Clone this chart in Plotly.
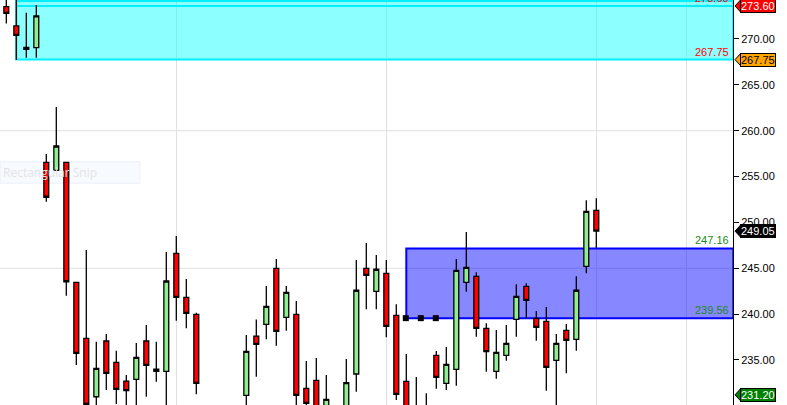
import plotly.graph_objects as go

# bar index (gaps = bars that sit below the visible range)
idx = [0, 1, 2, 3, 4, 5, 6, 7, 8, 9, 10, 11, 12, 13, 14, 15, 16, 17, 18, 19,
       24, 25, 26, 27, 28, 29, 30, 31, 32, 34, 35, 36, 37, 38, 39,
       40, 41, 42, 43, 44, 45, 46, 47, 48, 49, 50, 51, 52, 53, 54, 55, 56, 57, 58, 59]
opens = [273.53, 271.42, 269.09, 269.05, 256.55, 255.68, 256.55, 243.47, 237.36, 230.99,
         237.07, 234.74, 232.70, 232.89, 237.07, 234.01, 233.76, 246.63, 241.83, 239.98,
         231.14, 237.61, 238.89, 244.99, 239.65, 239.98, 231.91, 232.78, 229.40, 229.60,
         233.47, 244.99, 242.49, 244.45, 239.87,
         232.67, 229.80, 229.60, 235.51, 232.45, 233.98, 243.47, 244.12, 238.45, 233.76,
         235.51, 239.43, 243.03, 239.54, 239.21, 234.96, 238.23, 237.25, 245.21, 251.32]
highs = [274.80, 275.00, 272.87, 273.70, 257.46, 262.58, 256.55, 243.47, 246.99, 236.99,
         237.83, 236.01, 233.36, 236.85, 238.81, 236.99, 246.77, 248.52, 243.83, 240.15,
         237.72, 239.42, 243.06, 246.01, 243.06, 241.43, 234.89, 235.21, 233.36, 235.10,
         245.90, 247.75, 246.45, 245.90, 241.07,
         235.65, 233.14, 231.36, 235.98, 236.41, 246.01, 248.95, 244.56, 239.00, 238.27,
         238.81, 243.25, 243.36, 240.34, 240.77, 237.83, 238.92, 244.12, 252.41, 252.63]
lows = [271.70, 267.71, 267.96, 267.96, 252.26, 255.68, 242.00, 234.45, 229.50, 229.80,
        231.72, 230.20, 229.90, 229.80, 230.99, 232.63, 229.90, 239.28, 238.45, 231.25,
        229.90, 233.17, 237.25, 236.56, 238.19, 229.80, 229.70, 229.40, 229.00, 229.20,
        231.54, 240.52, 240.52, 237.47, 230.63,
        229.40, 228.80, 228.80, 231.87, 231.72, 232.19, 242.44, 237.54, 233.72, 232.96,
        234.92, 237.54, 239.54, 237.10, 231.65, 229.90, 233.54, 236.01, 244.45, 247.18]
closes = [272.80, 270.40, 268.88, 272.51, 252.74, 258.33, 243.53, 235.72, 230.16, 234.09,
          233.54, 231.80, 231.65, 235.29, 234.42, 233.76, 243.61, 241.83, 240.09, 232.45,
          235.94, 236.71, 240.85, 238.12, 242.38, 231.14, 230.27, 229.60, 230.71, 232.52,
          242.60, 244.23, 244.89, 238.67, 231.25,
          229.80, 229.20, 229.00, 233.10, 234.52, 244.78, 245.10, 238.45, 235.90, 235.83,
          236.82, 241.94, 241.50, 238.56, 234.20, 236.82, 237.14, 242.60, 251.21, 249.05]

# zones / levels
supply_zone = (267.75, 273.60)
demand_zone = (239.56, 247.16)
grid_levels = [245, 260]
time_grid = [17, 38, 59, 68]
handles_x = [39.95, 41.45, 42.95]
tags = [(273.60, "273.60", "#ff0000", "white"),
        (267.75, "267.75", "#ffa500", "black"),
        (249.05, "249.05", "black", "white"),
        (231.20, "231.20", "#008000", "white")]

fig = go.Figure()
fig.add_trace(go.Candlestick(
    x=idx, open=opens, high=highs, low=lows, close=closes,
    increasing=dict(line=dict(color="black", width=1.3), fillcolor="#90ee90"),
    decreasing=dict(line=dict(color="black", width=1.3), fillcolor="#ff0000"),
    whiskerwidth=0, showlegend=False, hoverinfo="skip"))

fig.add_trace(go.Scatter(x=handles_x, y=[demand_zone[0]] * 3, mode="markers",
                         marker=dict(symbol="square", size=6, color="black"),
                         showlegend=False, hoverinfo="skip"))

for g in grid_levels:
    fig.add_shape(type="line", xref="paper", x0=0, x1=1, y0=g, y1=g,
                  line=dict(color="#e0e0e0", width=1), layer="below")

# faded snip tooltip box (under the candles)
fig.add_shape(type="rect", xref="paper", yref="paper", x0=0, x1=140 / 733,
              y0=(405 - 183.3) / 405, y1=(405 - 161.7) / 405,
              fillcolor="rgba(240,245,255,0.5)", line=dict(color="rgba(225,235,250,0.6)", width=1),
              layer="below")
fig.add_annotation(xref="paper", yref="paper", x=0, y=(405 - 172.5) / 405,
                   text="Rectangular Snip", showarrow=False, xanchor="left",
                   yanchor="middle", xshift=1,
                   font=dict(family="Open Sans", size=12, color="#e4e4e4"))

# cyan zone
fig.add_shape(type="rect", x0=1, x1=72.7, y0=supply_zone[0], y1=274.15,
              fillcolor="rgba(0,255,255,0.45)", line=dict(color="#00f0ff", width=2),
              layer="between")
fig.add_shape(type="line", x0=1, x1=72.7, y0=supply_zone[1], y1=supply_zone[1],
              line=dict(color="#00f0ff", width=2), layer="between")
# blue zone
fig.add_shape(type="rect", x0=40, x1=72.7, y0=demand_zone[0], y1=demand_zone[1],
              fillcolor="rgba(0,0,255,0.47)", line=dict(color="#0000ff", width=2),
              layer="between")

# level texts in the plot
for v, c in [(supply_zone[1], "#ff0000"), (supply_zone[0], "#ff0000"),
             (demand_zone[1], "#1a8a1a"), (demand_zone[0], "#1a8a1a")]:
    fig.add_annotation(xref="paper", x=1, y=v, text=f"{v:.2f}", showarrow=False,
                       xanchor="right", yanchor="bottom", xshift=-2, yshift=0,
                       font=dict(family="Liberation Sans, Arial", size=11, color=c))

# price tags on the axis
for v, t, bg, fg in tags:
    fig.add_shape(type="path", xref="paper", xsizemode="pixel", xanchor=1,
                  ysizemode="pixel", yanchor=v,
                  path="M2,0 L8,6.5 L8,-6.5 Z", fillcolor=bg,
                  line=dict(color="black", width=1))
    fig.add_annotation(xref="paper", x=1, y=v, text=t, showarrow=False,
                       xanchor="left", yanchor="middle", xshift=7,
                       bgcolor=bg, bordercolor="black", borderwidth=1, borderpad=0,
                       font=dict(family="Liberation Sans, Arial", size=11, color=fg))

fig.update_layout(
    width=787, height=405, margin=dict(l=0, r=54, t=0, b=0),
    paper_bgcolor="white", plot_bgcolor="white",
    xaxis=dict(range=[-0.63, 72.67], rangeslider=dict(visible=False),
               tickvals=time_grid, showticklabels=False, ticks="",
               showgrid=True, gridcolor="#e0e0e0", gridwidth=1, zeroline=False),
    yaxis=dict(range=[230.09, 274.25], side="right", dtick=5, tickformat=".2f",
               showgrid=False, zeroline=False, showline=True, linecolor="black",
               linewidth=1, ticks="outside", ticklen=5, tickcolor="black",
               tickfont=dict(family="Liberation Sans, Arial", size=11, color="black")),
)

fig.write_html("out.html", config={"displayModeBar": False},
               post_script="document.body.style.margin='0';")
